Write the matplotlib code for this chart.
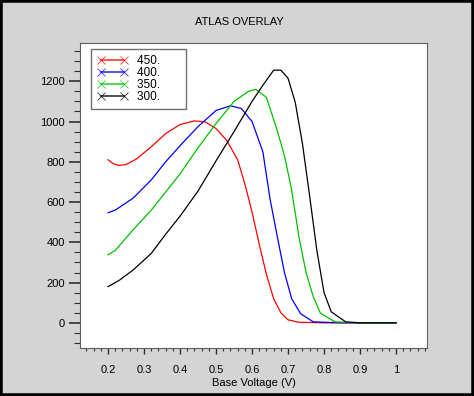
import matplotlib.pyplot as plt
from matplotlib.lines import Line2D
from matplotlib.patches import Rectangle
from matplotlib.ticker import MultipleLocator

plt.rcParams['font.family'] = ['Liberation Sans', 'DejaVu Sans']

# curves, one per temperature
x_450 = [0.2, 0.215, 0.23, 0.25, 0.28, 0.32, 0.36, 0.4, 0.44, 0.47, 0.5, 0.53,
         0.56, 0.58, 0.6, 0.62, 0.64, 0.66, 0.68, 0.7, 0.73, 0.8, 0.9, 1.0]
y_450 = [810, 790, 782, 786, 815, 875, 940, 985, 1003, 998, 965, 905,
         810, 690, 550, 390, 240, 120, 50, 15, 3, 0, 0, 0]

x_400 = [0.2, 0.22, 0.27, 0.32, 0.36, 0.4, 0.45, 0.5, 0.54, 0.57, 0.6, 0.63,
         0.65, 0.67, 0.69, 0.71, 0.735, 0.77, 0.85, 1.0]
y_400 = [547, 560, 620, 710, 800, 880, 975, 1055, 1078, 1065, 1000, 850,
         615, 430, 250, 120, 45, 5, 0, 0]

x_350 = [0.2, 0.22, 0.27, 0.32, 0.36, 0.4, 0.45, 0.5, 0.55, 0.59, 0.61, 0.64,
         0.67, 0.69, 0.71, 0.73, 0.75, 0.77, 0.79, 0.83, 0.9, 1.0]
y_350 = [338, 360, 463, 560, 650, 740, 870, 990, 1100, 1150, 1160, 1120,
         955, 830, 660, 430, 250, 130, 48, 5, 0, 0]

x_300 = [0.2, 0.23, 0.27, 0.32, 0.36, 0.4, 0.45, 0.5, 0.55, 0.6, 0.63, 0.66,
         0.68, 0.7, 0.72, 0.74, 0.76, 0.78, 0.8, 0.82, 0.86, 0.9, 1.0]
y_300 = [180, 210, 263, 345, 440, 530, 655, 805, 950, 1100, 1180, 1255,
         1255, 1215, 1095, 890, 630, 360, 150, 55, 5, 0, 0]

labels = ['450.', '400.', '350.', '300.']
colors = ['#ff0000', '#0000ff', '#00c000', '#000000']

fig = plt.figure(figsize=(4.74, 3.96), dpi=100, facecolor='#d4d4d4')
fig.patches.append(Rectangle((0, 0), 1, 1, transform=fig.transFigure,
                             fill=False, edgecolor='black', linewidth=4))

ax = fig.add_axes([0.1688, 0.1212, 0.732, 0.7702])
series = [(x_450, y_450), (x_400, y_400), (x_350, y_350), (x_300, y_300)]
for (xs, ys), c in zip(series, colors):
    ax.plot(xs, ys, color=c, lw=0.9)

ax.set_xlim(0.122, 1.086)
ax.set_ylim(-125, 1390)
ax.xaxis.set_major_locator(MultipleLocator(0.1))
ax.xaxis.set_minor_locator(MultipleLocator(0.02))
ax.yaxis.set_major_locator(MultipleLocator(200))
ax.yaxis.set_minor_locator(MultipleLocator(50))
ax.xaxis.set_major_formatter(lambda v, p: f'{v:g}')

for s in ax.spines.values():
    s.set_color('#606060')
    s.set_linewidth(0.8)
ax.tick_params(axis='y', which='major', length=8, width=1.2, pad=3,
               labelsize=8, color='#303030')
ax.tick_params(axis='y', which='minor', length=4, width=0.8, color='#303030')
ax.tick_params(axis='x', which='major', length=4.5, width=1.0, pad=8,
               labelsize=8, color='#303030')
ax.tick_params(axis='x', which='minor', length=2.5, width=0.8, color='#303030')

ax.set_xlabel('Base Voltage (V)', fontsize=8, labelpad=2)
fig.text(0.505, 0.944, 'ATLAS OVERLAY', ha='center', va='center', fontsize=8)

# legend keys: line with an x at each end; the box is wider than its text
handles = [Line2D([], [], color=c, lw=1.2, marker='x', markersize=6,
                  markeredgewidth=0.6, alpha=0.8) for c in colors]
leg = ax.legend(handles, [l + '      ' for l in labels], loc='upper left',
                bbox_to_anchor=(0.032, 0.98), borderaxespad=0, numpoints=2,
                fontsize=8.5, fancybox=False, edgecolor='#707070',
                framealpha=1, labelspacing=0.0, handlelength=2.6,
                handletextpad=0.8, borderpad=0.5)
leg.get_frame().set_linewidth(1.0)

fig.savefig('out.png', dpi=100, facecolor=fig.get_facecolor())
